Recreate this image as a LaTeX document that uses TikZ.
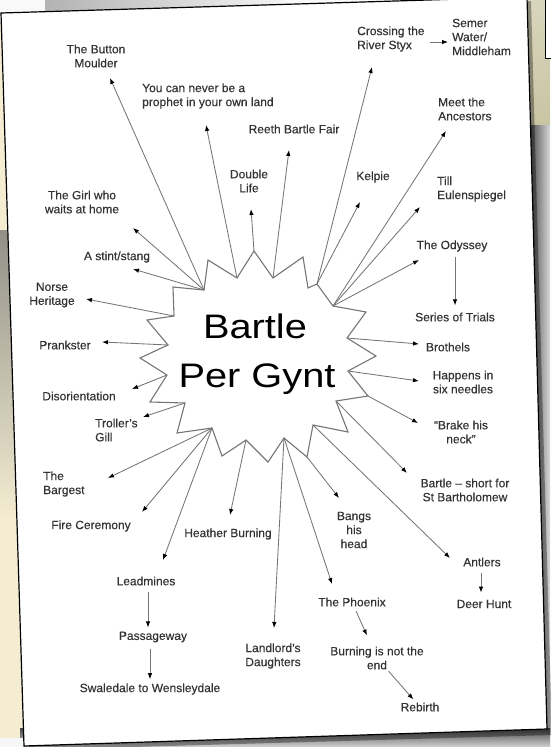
\documentclass[tikz,border=0pt]{standalone}
\usepackage{fontspec}
\setmainfont{Liberation Sans}
\newfontfamily\lblfont{Liberation Sans}[FakeBold=0.35,Ligatures=TeX]
\usetikzlibrary{arrows.meta}
\definecolor{linegray}{HTML}{767676}
\definecolor{txt}{HTML}{333333}
\definecolor{cream}{HTML}{F4EDD2}
\definecolor{olive}{HTML}{C9C4A2}
\definecolor{bggray}{HTML}{BDBDBD}
\tikzset{
  lbl/.style={text=txt, font=\lblfont\fontsize{12}{14}\selectfont, align=center, inner sep=0pt},
  lbll/.style={lbl, align=left, anchor=west},
  arr/.style={draw=linegray, line width=0.85pt, -{Latex[length=6pt,width=4.5pt,color=black]}},
  starline/.style={draw=linegray, line width=1.1pt, fill=white, line join=miter},
  big/.style={font=\fontsize{34}{49}\selectfont, text=black, anchor=base, inner sep=0pt},
  paper/.style={fill=white, draw=black, line width=1.2pt}
}
\begin{document}
\begin{tikzpicture}[x=1pt,y=-1pt]
\useasboundingbox (0,0) rectangle (550,747);
% ---------- surroundings ----------
\fill[bggray] (0,0) rectangle (550,747);
\fill[cream] (0,20) rectangle (40,740);
\shade[top color=gray!75!olive, bottom color=cream] (0,230) rectangle (16,520);
\fill[white!95!gray] (0,0) rectangle (50,22);
\shade[left color=gray!60, right color=white!92!gray] (45,0) rectangle (285,16);
\fill[white!96!gray] (285,0) rectangle (530,12);
\shade[top color=olive!70, bottom color=olive] (526,0) rectangle (550,125);
\filldraw[fill=white, draw=black, line width=1pt] (545,-2) -- (545,58) -- (552,58) -- (552,-2) -- cycle;
\shade[left color=gray!50!black, right color=gray!30] (528,125) rectangle (550,747);
\shade[top color=gray!55!black, bottom color=gray!35] (20,728) rectangle (550,747);
\fill[white!94!gray] (0,738) rectangle (24,747);
% ---------- paper ----------
\fill[black, opacity=0.35] (4,17) -- (531,1) -- (552,735) -- (28,750) -- cycle;
\path[paper] (1,13) -- (527,-3) -- (547,729) -- (24,746) -- cycle;
% ---------- star points ----------
\coordinate (s1) at (140,358);
\coordinate (s2) at (168,345);
\coordinate (s3) at (147,320);
\coordinate (s4) at (174,316);
\coordinate (s5) at (173,287);
\coordinate (s6) at (204,290);
\coordinate (s7) at (208,260);
\coordinate (s8) at (237,278);
\coordinate (s9) at (254,251);
\coordinate (s10) at (273,278);
\coordinate (s11) at (303,257);
\coordinate (s12) at (308,288);
\coordinate (s13) at (317,284);
\coordinate (s14) at (333,306);
\coordinate (s15) at (366,312);
\coordinate (s16) at (347,338);
\coordinate (s17) at (376,356);
\coordinate (s18) at (348,371);
\coordinate (s19) at (368,396);
\coordinate (s20) at (336,401);
\coordinate (s21) at (348,432);
\coordinate (s22) at (313,425);
\coordinate (s23) at (307,457);
\coordinate (s24) at (284,438);
\coordinate (s25) at (268,462);
\coordinate (s26) at (246,440);
\coordinate (s27) at (222,456);
\coordinate (s28) at (212,428);
\coordinate (s29) at (177,433);
\coordinate (s30) at (185,403);
\coordinate (s31) at (150,402);
\coordinate (s32) at (167,375);
\path[starline] (s1) -- (s2) -- (s3) -- (s4) -- (s5) -- (s6) -- (s7) -- (s8)
  -- (s9) -- (s10) -- (s11) -- (s12) -- (s13) -- (s14) -- (s15) -- (s16)
  -- (s17) -- (s18) -- (s19) -- (s20) -- (s21) -- (s22) -- (s23) -- (s24)
  -- (s25) -- (s26) -- (s27) -- (s28) -- (s29) -- (s30) -- (s31) -- (s32) -- cycle;
\node[big] (bartle) at (255,338) {\scalebox{1.17}[1]{Bartle}};
\node[big] (pergynt) at (257,387) {\scalebox{1.17}[1]{Per Gynt}};
% ---------- labels ----------
\node[lbl] (button) at (96,56) {The Button\\Moulder};
\node[lbll] (prophet) at (142,96) {You can never be a\\prophet in your own land};
\node[lbl] (reeth) at (294,129) {Reeth Bartle Fair};
\node[lbl] (double) at (249,181) {Double\\Life};
\node[lbll] (cross) at (357,39) {Crossing the\\River Styx};
\node[lbll] (semer) at (452,37) {Semer\\Water/\\Middleham};
\node[lbll] (meet) at (438,109) {Meet the\\Ancestors};
\node[lbl] (kelpie) at (373,177) {Kelpie};
\node[lbll] (till) at (437,189) {Till\\Eulenspiegel};
\node[lbl] (odyssey) at (452,246) {The Odyssey};
\node[lbl] (trials) at (455,317) {Series of Trials};
\node[lbl] (brothels) at (448,347) {Brothels};
\node[lbl] (happens) at (463,382) {Happens in\\six needles};
\node[lbl] (brake) at (461,432) {“Brake his\\neck”};
\node[lbl] (short) at (465,490) {Bartle – short for\\St Bartholomew};
\node[lbl] (antlers) at (482,562) {Antlers};
\node[lbl] (deer) at (484,604) {Deer Hunt};
\node[lbl] (bangs) at (354,530) {Bangs\\his\\head};
\node[lbl] (phoenix) at (352,602) {The Phoenix};
\node[lbl] (burning) at (377,658) {Burning is not the\\end};
\node[lbl] (rebirth) at (420,707) {Rebirth};
\node[lbl] (landlord) at (273,656) {Landlord's\\Daughters};
\node[lbl] (heather) at (228,534) {Heather Burning};
\node[lbl] (lead) at (146,581) {Leadmines};
\node[lbl] (passage) at (153,637) {Passageway};
\node[lbl] (swale) at (150,689) {Swaledale to Wensleydale};
\node[lbl] (fire) at (91,526) {Fire Ceremony};
\node[lbll] (bargest) at (43,484) {The\\Bargest};
\node[lbll] (troller) at (95,430) {Troller's\\Gill};
\node[lbl] (disor) at (79,396) {Disorientation};
\node[lbl] (prank) at (65,345) {Prankster};
\node[lbl] (norse) at (52,295) {Norse\\Heritage};
\node[lbl] (stint) at (117,257) {A stint/stang};
\node[lbl] (girl) at (82,202) {The Girl who\\waits at home};
% ---------- arrow tips ----------
\coordinate (t-button) at (110,78);
\coordinate (t-prophet) at (206,125);
\coordinate (t-reeth) at (289,150);
\coordinate (t-double) at (251,209);
\coordinate (t-cross) at (372,67);
\coordinate (t-kelpie) at (360,202);
\coordinate (t-meet) at (446,131);
\coordinate (t-till) at (420,207);
\coordinate (t-odyssey) at (419,260);
\coordinate (t-brothels) at (419,344);
\coordinate (t-happens) at (419,381);
\coordinate (t-brake) at (418,423);
\coordinate (t-short) at (407,473);
\coordinate (t-antlers) at (450,558);
\coordinate (t-bangs) at (339,498);
\coordinate (t-phoenix) at (332,584);
\coordinate (t-landlord) at (274,628);
\coordinate (t-heather) at (230,515);
\coordinate (t-lead) at (163,560);
\coordinate (t-fire) at (142,512);
\coordinate (t-bargest) at (108,478);
\coordinate (t-troller) at (143,417);
\coordinate (t-disor) at (132,389);
\coordinate (t-prank) at (102,342);
\coordinate (t-norse) at (86,299);
\coordinate (t-stint) at (133,269);
\coordinate (t-girl) at (133,228);
% ---------- connectors from the star ----------
\draw[arr] (s6) -- (t-button);
\draw[arr] (s8) -- (t-prophet);
\draw[arr] (s10) -- (t-reeth);
\draw[arr] (s9) -- (t-double);
\draw[arr] (s13) -- (t-cross);
\draw[arr] (s13) -- (t-kelpie);
\draw[arr] (s14) -- (t-meet);
\draw[arr] (s14) -- (t-till);
\draw[arr] (s14) -- (t-odyssey);
\draw[arr] (s16) -- (t-brothels);
\draw[arr] (s18) -- (t-happens);
\draw[arr] (s19) -- (t-brake);
\draw[arr] (s20) -- (t-short);
\draw[arr] (s22) -- (t-antlers);
\draw[arr] (s23) -- (t-bangs);
\draw[arr] (s24) -- (t-phoenix);
\draw[arr] (s24) -- (t-landlord);
\draw[arr] (s26) -- (t-heather);
\draw[arr] (s28) -- (t-lead);
\draw[arr] (s28) -- (t-fire);
\draw[arr] (s28) -- (t-bargest);
\draw[arr] (s30) -- (t-troller);
\draw[arr] (s32) -- (t-disor);
\draw[arr] (s2) -- (t-prank);
\draw[arr] (s4) -- (t-norse);
\draw[arr] (s6) -- (t-stint);
\draw[arr] (s6) -- (t-girl);
% ---------- connectors between labels ----------
\draw[arr] ([shift={(5,3)}]cross.east) -- ([shift={(-4,5)}]semer.west);
\draw[arr, shorten <=5pt, shorten >=7pt] ([xshift=3pt]odyssey.south) -- ([xshift=3pt]odyssey.south |- trials.north);
\draw[arr, shorten <=6pt, shorten >=4pt] ([xshift=2pt]lead.south) -- ([xshift=2pt]lead.south |- passage.north);
\draw[arr, shorten <=6pt, shorten >=4pt] ([xshift=-3pt]passage.south) -- ([xshift=-3pt]passage.south |- swale.north);
\draw[arr, shorten <=6pt, shorten >=7pt] ([xshift=-1pt]antlers.south) -- ([xshift=-1pt]antlers.south |- deer.north);
\draw[arr, shorten <=5pt, shorten >=12pt] (phoenix) -- (burning);
\draw[arr, shorten <=2pt, shorten >=4pt] (burning) -- (rebirth);
\end{tikzpicture}
\end{document}
